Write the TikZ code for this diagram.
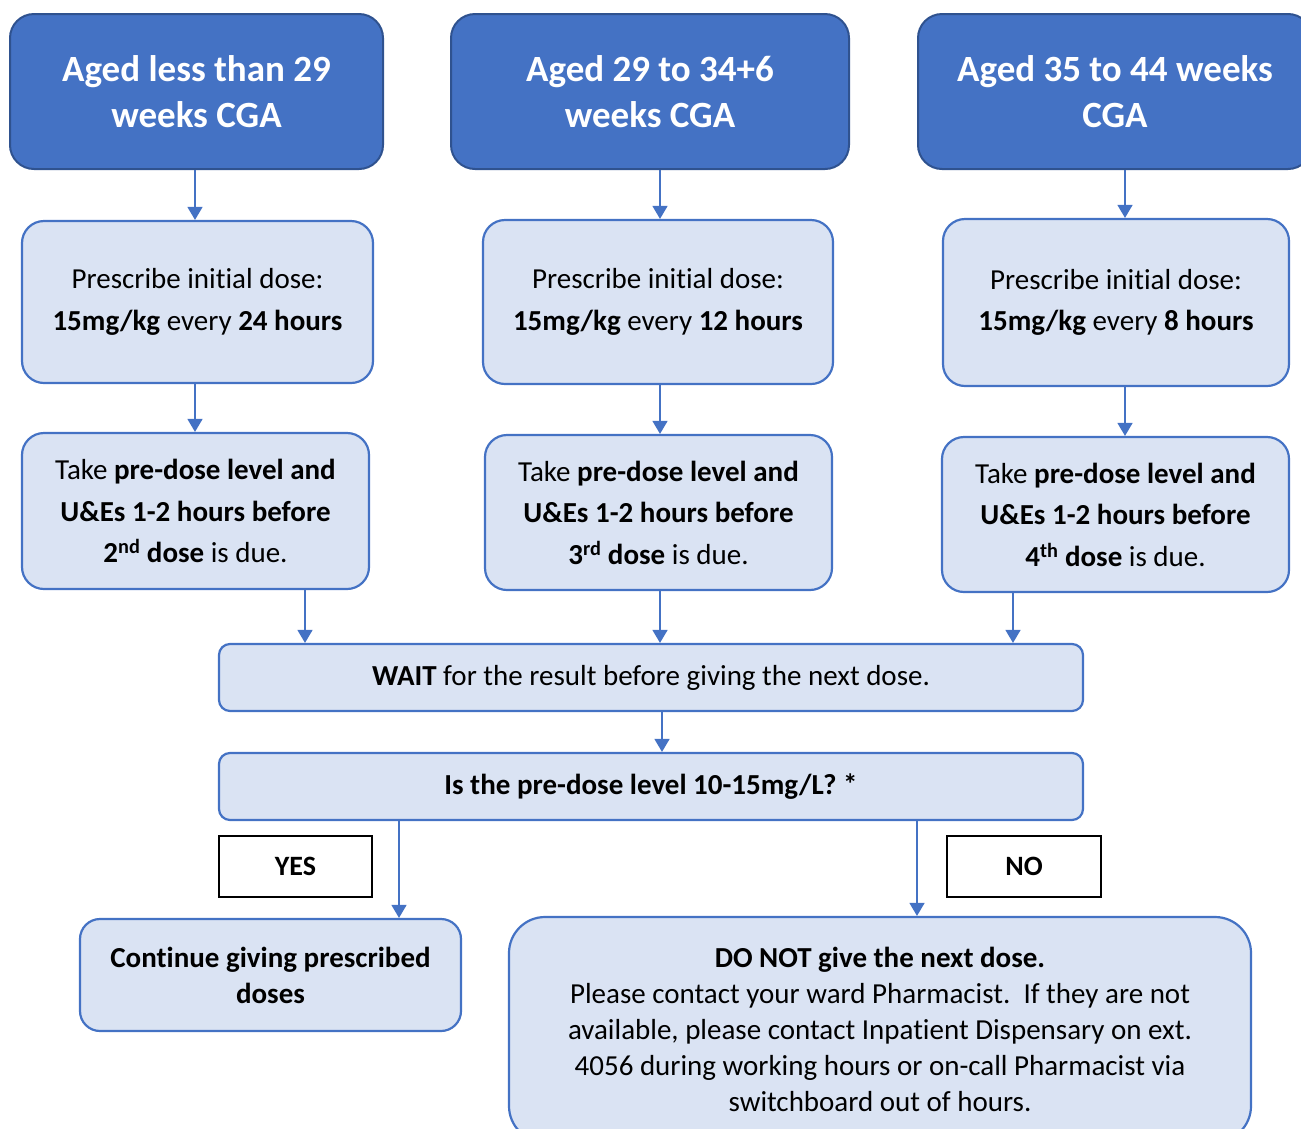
\documentclass[tikz,border=0pt]{standalone}
\usepackage{fontspec}
\setmainfont{Carlito}[Ligatures=NoCommon]
\usetikzlibrary{arrows.meta}
\definecolor{hdfill}{HTML}{4472C4}
\definecolor{hdline}{HTML}{2F528F}
\definecolor{lightfill}{HTML}{DAE3F3}
\definecolor{lightline}{HTML}{4472C4}
\tikzset{
  header/.style={rectangle, rounded corners=24pt, draw=hdline, fill=hdfill, line width=2pt,
    text=white, align=center, inner sep=0pt, font=\fontsize{37}{46}\selectfont\bfseries},
  lbox/.style={rectangle, rounded corners=22pt, draw=lightline, fill=lightfill, line width=2.2pt,
    align=center, inner sep=0pt, font=\fontsize{29}{41.5}\selectfont},
  wbox/.style={rectangle, rounded corners=11pt, draw=lightline, fill=lightfill, line width=2.2pt,
    align=center, inner sep=0pt, font=\fontsize{29}{36}\selectfont},
  tagbox/.style={rectangle, draw=black, fill=white, line width=2.2pt,
    align=center, inner sep=0pt, font=\fontsize{28}{34}\selectfont\bfseries},
  arr/.style={draw=lightline, line width=1.5pt, -{Triangle[width=15pt,length=13pt]}}
}
\begin{document}
\begin{tikzpicture}[x=1pt,y=-1pt]
\useasboundingbox (0,0) rectangle (1301,1128);
% headers
\node[header, minimum width=373pt, minimum height=155pt] (H1) at (196.5,91.5) {Aged less than 29\\weeks CGA};
\node[header, minimum width=398pt, minimum height=155pt] (H2) at (650,91.5) {Aged 29 to 34+6\\weeks CGA};
\node[header, minimum width=394pt, minimum height=155pt] (H3) at (1115,91.5) {Aged 35 to 44 weeks\\CGA};
% prescribe boxes
\node[lbox, minimum width=351pt, minimum height=162pt] (B1) at (197.5,302) {Prescribe initial dose:\\\textbf{15mg/kg} every \textbf{24 hours}};
\node[lbox, minimum width=350pt, minimum height=164pt] (B2) at (658,302) {Prescribe initial dose:\\\textbf{15mg/kg} every \textbf{12 hours}};
\node[lbox, minimum width=346pt, minimum height=167pt] (B3) at (1116,302.5) {Prescribe initial dose:\\\textbf{15mg/kg} every \textbf{8 hours}};
% pre-dose boxes
\node[lbox, minimum width=347pt, minimum height=156pt] (C1) at (195.5,511) {Take \textbf{pre-dose level and}\\\textbf{U\&Es 1-2 hours before}\\\textbf{2\textsuperscript{nd} dose} is due.};
\node[lbox, minimum width=347pt, minimum height=155pt] (C2) at (658.5,512.5) {Take \textbf{pre-dose level and}\\\textbf{U\&Es 1-2 hours before}\\\textbf{3\textsuperscript{rd} dose} is due.};
\node[lbox, minimum width=347pt, minimum height=155pt] (C3) at (1115.5,514.5) {Take \textbf{pre-dose level and}\\\textbf{U\&Es 1-2 hours before}\\\textbf{4\textsuperscript{th} dose} is due.};
% wait / question
\node[wbox, minimum width=864pt, minimum height=67pt] (W) at (651,677.5) {\textbf{WAIT} for the result before giving the next dose.};
\node[wbox, minimum width=864pt, minimum height=67pt] (Q) at (651,786.5) {\textbf{Is the pre-dose level 10-15mg/L? *}};
% yes / no tags
\node[tagbox, minimum width=153pt, minimum height=61pt] (YES) at (295.5,866.5) {YES};
\node[tagbox, minimum width=154pt, minimum height=61pt] (NO) at (1024,866.5) {NO};
% outcomes
\node[wbox, rounded corners=20pt, minimum width=381pt, minimum height=112pt] (CONT) at (270.5,975) {\textbf{Continue giving prescribed}\\\textbf{doses}};
\node[wbox, rounded corners=36pt, minimum width=742pt, minimum height=225pt] (DN) at (880,1029.5) {\textbf{DO NOT give the next dose.}\\Please contact your ward Pharmacist.\ \ If they are not\\available, please contact Inpatient Dispensary on ext.\\4056 during working hours or on-call Pharmacist via\\switchboard out of hours.};
% connectors
\draw[arr] ([xshift=-1.5pt]H1.south) -- ([xshift=-1.5pt]H1.south |- B1.north);
\draw[arr] ([xshift=10pt]H2.south) -- ([xshift=10pt]H2.south |- B2.north);
\draw[arr] ([xshift=10pt]H3.south) -- ([xshift=10pt]H3.south |- B3.north);
\draw[arr] ([xshift=-2.5pt]B1.south) -- ([xshift=-2.5pt]B1.south |- C1.north);
\draw[arr] ([xshift=2pt]B2.south) -- ([xshift=2pt]B2.south |- C2.north);
\draw[arr] ([xshift=9pt]B3.south) -- ([xshift=9pt]B3.south |- C3.north);
\draw[arr] ([xshift=109.5pt]C1.south) -- ([xshift=109.5pt]C1.south |- W.north);
\draw[arr] ([xshift=1.5pt]C2.south) -- ([xshift=1.5pt]C2.south |- W.north);
\draw[arr] ([xshift=-102.5pt]C3.south) -- ([xshift=-102.5pt]C3.south |- W.north);
\draw[arr] ([xshift=11pt]W.south) -- ([xshift=11pt]W.south |- Q.north);
\draw[arr] ([xshift=-252pt]Q.south) -- ([xshift=-252pt]Q.south |- CONT.north);
\draw[arr] ([xshift=266pt]Q.south) -- ([xshift=266pt]Q.south |- DN.north);
\end{tikzpicture}
\end{document}
